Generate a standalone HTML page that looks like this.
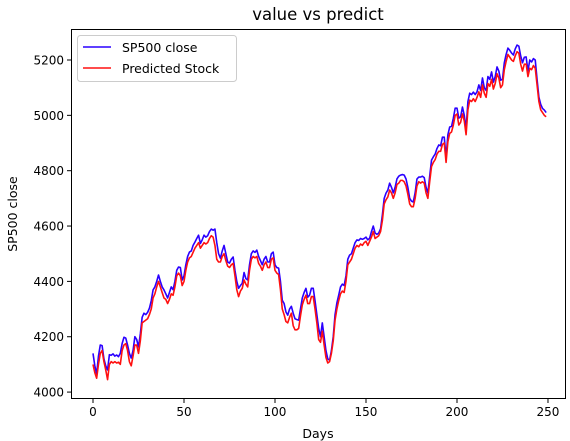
<!DOCTYPE html>
<html><head><meta charset="utf-8"><style>
body{margin:0;background:#fff;}
svg{display:block;font-family:"DejaVu Sans","Liberation Sans",sans-serif;}
</style></head><body>
<svg id="chart" width="570" height="441">
<text x="318" y="20" font-size="16.5" text-anchor="middle" fill="#000">value vs predict</text>
<g id="axes"></g>
<text x="318" y="438" font-size="12.5" text-anchor="middle">Days</text>
<text x="17" y="214" font-size="12.5" text-anchor="middle" transform="rotate(-90 17 214)">SP500 close</text>
<g>
<rect x="77.5" y="35.5" width="159" height="46" rx="3" fill="#fff" fill-opacity="0.8" stroke="#ccc"/>
<g><line x1="83" y1="47" x2="111" y2="47" stroke="#2a00ff" stroke-width="1.6"/><text x="122" y="52" font-size="12.5">SP500 close</text></g>
<g><line x1="83" y1="68" x2="111" y2="68" stroke="#ff1010" stroke-width="1.6"/><text x="122" y="73" font-size="12.5">Predicted Stock</text></g>
</g>
</svg>
<script>
const closeVals=[4140,4095,4065,4130,4170,4168,4120,4095,4080,4135,
4133,4138,4130,4134,4128,4140,4175,4198,4195,4170,
4140,4123,4150,4200,4190,4163,4210,4270,4285,4280,
4288,4303,4330,4369,4380,4400,4423,4400,4380,4369,
4355,4340,4360,4380,4370,4400,4440,4452,4450,4405,
4420,4460,4490,4506,4510,4530,4542,4555,4567,4537,
4550,4567,4560,4565,4580,4589,4585,4589,4540,4500,
4484,4510,4530,4500,4470,4466,4480,4488,4440,4400,
4375,4385,4393,4432,4410,4405,4460,4500,4510,4505,
4513,4490,4475,4460,4480,4490,4470,4470,4500,4506,
4460,4450,4448,4400,4332,4320,4290,4278,4300,4310,
4285,4265,4262,4260,4300,4340,4360,4375,4343,4350,
4375,4375,4330,4280,4230,4200,4250,4200,4150,4120,
4115,4150,4200,4280,4322,4350,4380,4390,4385,4420,
4480,4495,4500,4520,4540,4550,4548,4555,4552,4555,
4560,4550,4556,4580,4600,4575,4570,4575,4590,4640,
4700,4719,4730,4755,4740,4720,4740,4770,4780,4784,
4786,4784,4770,4740,4700,4690,4687,4720,4770,4777,
4777,4780,4775,4740,4719,4780,4838,4850,4860,4880,
4893,4890,4921,4921,4849,4930,4958,4960,4990,5026,
5026,4990,4995,5030,5000,4950,5050,5080,5075,5084,
5075,5085,5110,5090,5135,5100,5090,5140,5130,5157,
5120,5140,5175,5160,5127,5130,5190,5220,5243,5235,
5225,5218,5240,5254,5250,5215,5190,5210,5211,5160,
5200,5193,5205,5200,5130,5066,5040,5025,5019,5010];
const predVals=[4100,4070,4050,4100,4140,4150,4110,4080,4045,4100,
4110,4105,4110,4105,4108,4100,4150,4170,4175,4150,
4110,4095,4130,4170,4170,4140,4185,4250,4255,4260,
4265,4280,4300,4340,4355,4380,4400,4380,4360,4340,
4335,4320,4335,4355,4350,4380,4420,4430,4420,4385,
4400,4440,4470,4485,4490,4505,4520,4530,4540,4520,
4530,4540,4535,4540,4555,4565,4560,4530,4480,4470,
4470,4490,4500,4475,4455,4450,4460,4465,4420,4370,
4345,4365,4375,4405,4390,4380,4440,4480,4490,4485,
4490,4465,4455,4440,4460,4470,4450,4450,4480,4485,
4440,4430,4425,4370,4300,4280,4255,4250,4270,4285,
4240,4225,4225,4230,4275,4315,4335,4350,4320,4320,
4345,4345,4300,4250,4190,4180,4220,4170,4125,4105,
4110,4140,4185,4260,4300,4330,4355,4365,4360,4400,
4460,4470,4480,4500,4520,4530,4525,4535,4530,4540,
4545,4530,4545,4560,4580,4555,4560,4565,4580,4620,
4680,4695,4705,4730,4720,4700,4720,4750,4755,4765,
4765,4760,4745,4715,4680,4670,4670,4700,4745,4760,
4755,4760,4755,4720,4700,4760,4815,4830,4840,4860,
4870,4870,4895,4900,4830,4905,4935,4940,4965,5000,
5005,4965,4975,5005,4980,4930,5020,5055,5050,5060,
5050,5065,5085,5065,5110,5080,5065,5115,5105,5130,
5095,5115,5150,5135,5100,5110,5165,5195,5220,5210,
5200,5195,5215,5230,5225,5185,5160,5185,5185,5140,
5170,5165,5180,5170,5110,5050,5020,5010,5000,4995];
const xTicks=[0,50,100,150,200,250];
const yTicks=[4000,4200,4400,4600,4800,5000,5200];

const L=71,R=566,T=29,B=399;
const xMin=-12.09,xMax=259.9,yMin=3975,yMax=5312;
const sx=v=>L+(v-xMin)/(xMax-xMin)*(R-L);
const sy=v=>B-(v-yMin)/(yMax-yMin)*(B-T);
const NS="http://www.w3.org/2000/svg";
const g=document.getElementById('axes');
function mk(t,a){const e=document.createElementNS(NS,t);for(const k in a)e.setAttribute(k,a[k]);g.appendChild(e);return e;}
function series(vals,color,name){
  const p=mk('polyline',{points:vals.map((v,i)=>sx(i).toFixed(2)+','+sy(v).toFixed(2)).join(' '),fill:'none',stroke:color,'stroke-width':1.6,'stroke-linejoin':'round'});
  
  
}
series(closeVals,'#2a00ff','sp500-close-line');
series(predVals,'#ff1010','predicted-stock-line');
const fr=mk('rect',{x:L+0.5,y:T+0.5,width:R-L-1,height:B-T-1,fill:'none',stroke:'#000','stroke-width':1});


xTicks.forEach(v=>{
  const x=sx(v);
  const tk=mk('line',{x1:x,y1:B,x2:x,y2:B+4,stroke:'#000'});
  
  
  const t=mk('text',{x:x,y:B+17,'font-size':12,'text-anchor':'middle'});
  t.textContent=v;
  
  
});
yTicks.forEach(v=>{
  const y=sy(v);
  const tk=mk('line',{x1:L-4,y1:y,x2:L,y2:y,stroke:'#000'});
  
  
  const t=mk('text',{x:L-7,y:y+4.5,'font-size':12,'text-anchor':'end'});
  t.textContent=v;
  
  
});
</script>
</body></html>
